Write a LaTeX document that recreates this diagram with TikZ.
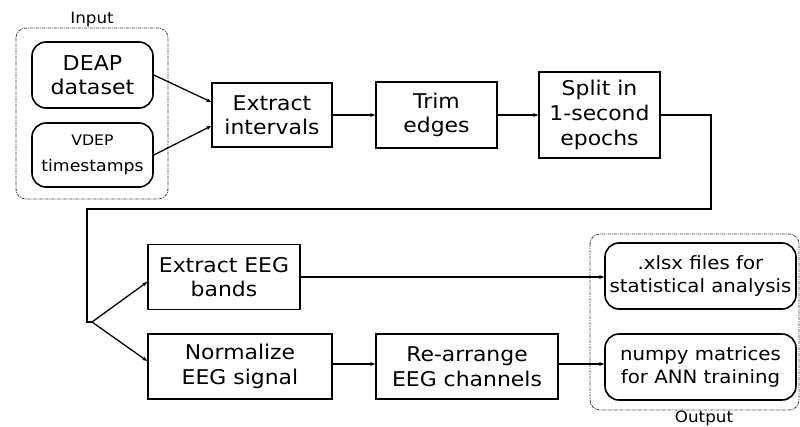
\documentclass[tikz,border=0pt]{standalone}
\usepackage{fontspec}
\setmainfont[FakeStretch=1.08]{DejaVu Sans}
\usetikzlibrary{arrows.meta}
\begin{document}
\begin{tikzpicture}[x=1pt,y=-1pt,
  box/.style={draw=black,line width=1.6pt,align=center,inner sep=0pt,font=\fontsize{20.3}{24.5}\selectfont},
  rbox/.style={box,rounded corners=14pt},
  grp/.style={draw=black!75,line width=0.8pt,dash pattern=on 3pt off 1pt on 1pt off 1pt,rounded corners=10pt},
  conn/.style={line width=1.3pt,-{Stealth[length=5pt,width=4pt]}},
  wire/.style={line width=1.3pt},
  lbl/.style={font=\fontsize{15.5}{18}\selectfont,inner sep=0pt}]
\useasboundingbox (0,0) rectangle (800,426);
% input group
\draw[grp] (16,28) rectangle (168,199);
\node[lbl] (inlbl) at (92,19) {Input};
\node[rbox,minimum width=121pt,minimum height=66pt,font=\fontsize{20.5}{24.5}\selectfont] (deap) at (92.5,75) {DEAP\\dataset};
\node[rbox,minimum width=121pt,minimum height=64pt,font=\fontsize{16}{26}\selectfont] (vdep) at (92.5,155) {{\fontsize{14.5}{17}\selectfont VDEP}\\timestamps};
% top row
\node[box,minimum width=120pt,minimum height=64pt] (extr) at (272,115) {Extract\\intervals};
\node[box,minimum width=121pt,minimum height=66pt] (trim) at (436.5,115) {Trim\\edges};
\node[box,minimum width=121pt,minimum height=86pt,font=\fontsize{20.3}{25}\selectfont] (split) at (599.5,115) {Split in\\1-second\\epochs};
\draw[conn] (deap.east) -- (extr.west |- 0,102);
\draw[conn] (vdep.east) -- (extr.west |- 0,126);
\draw[conn] (extr) -- (trim);
\draw[conn] (trim) -- (split);
% bottom row
\node[box,minimum width=152pt,minimum height=65pt] (bands) at (224,277) {Extract EEG\\bands};
\node[box,minimum width=184pt,minimum height=65pt] (norm) at (240,366.5) {Normalize\\EEG signal};
\node[box,minimum width=182pt,minimum height=65pt] (rearr) at (467,366.5) {Re-arrange\\EEG channels};
% output group
\draw[grp] (590,234) rectangle (799,410);
\node[lbl] (outlbl) at (704,418) {Output};
\node[rbox,minimum width=191pt,minimum height=66pt,font=\fontsize{18.3}{23.5}\selectfont] (xlsx) at (700.5,276) {.xlsx files for\\statistical analysis};
\node[rbox,minimum width=191pt,minimum height=66pt,font=\fontsize{18.3}{23.5}\selectfont] (numpy) at (700.5,367) {numpy matrices\\for ANN training};
% long connector
\coordinate (c1) at (711,115);
\coordinate (c2) at (711,209);
\coordinate (c3) at (87,209);
\coordinate (br) at (87,322);
\coordinate (br2) at (92,322);
\draw[wire] (split.east) -- (c1) -- (c2) -- (c3) -- (br) -- (br2);
\draw[conn] (br2) -- (bands.west |- 0,282);
\draw[conn] (br2) -- (norm.west |- 0,361);
\draw[conn] (bands.east) -- (bands.east -| xlsx.west);
\draw[conn] (norm.east |- 0,364) -- (rearr.west |- 0,364);
\draw[conn] (rearr.east |- 0,364) -- (numpy.west |- 0,364);
\end{tikzpicture}
\end{document}
